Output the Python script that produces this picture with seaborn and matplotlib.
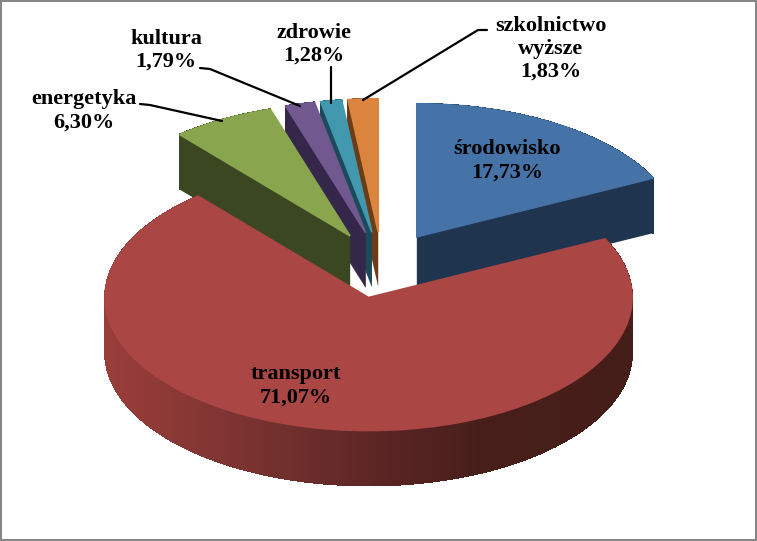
import numpy as np
import matplotlib
matplotlib.use("Agg")
import matplotlib.pyplot as plt
import seaborn as sns
from matplotlib.collections import PolyCollection
from matplotlib.colors import LinearSegmentedColormap
from matplotlib.lines import Line2D
from matplotlib.patches import Rectangle

# ---- data ----
categories = ["środowisko", "transport", "energetyka", "kultura", "zdrowie", "szkolnictwo\nwyższe"]
values = [17.73, 71.07, 6.30, 1.79, 1.28, 1.83]

# ---- style ----
top_colors = ["#4572A7", "#AA4643", "#89A54E", "#71588F", "#4198AF", "#DB843D"]
side_colors = ["#1F344F", "#451D19", "#3A4720", "#35274A", "#1B4B5A", "#6B3C16"]
rim_cmap = LinearSegmentedColormap.from_list(
    "rim", [(0.0, "#9A3E3A"), (0.37, "#6E2E2C"), (0.55, "#582423"), (0.72, "#471E1A"), (1.0, "#451D19")])
explode_amount = 0.25
W, H = 757, 541
CX, CY, RX, RY, DEPTH_PX = 382.0, 265.0, 263.5, 133.0, 55.0

label_xy = [(507, 161), (296, 386), (84, 111), (166, 50), (314, 44), (551, 49)]
leaders = [
    [(140, 104), (150, 105), (222, 121)],
    [(200, 68), (210, 69), (300, 106)],
    [(331, 67), (331, 103)],
    [(363, 100), (478, 30), (487, 30)],
]

sns.set_theme(style="white")
plt.rcParams["font.family"] = ["Liberation Serif", "DejaVu Serif"]

fig = plt.figure(figsize=(W / 100, H / 100), dpi=100, facecolor="white")
ax = fig.add_axes([0, 0, 1, 1])

wedges, _ = ax.pie(values, explode=[explode_amount] * len(values), colors=top_colors,
                   startangle=90, counterclock=False, radius=1.0,
                   wedgeprops={"linewidth": 1.2})
ax.set_aspect("auto")
ax.set_xlim(-CX / RX, (W - CX) / RX)
ax.set_ylim((CY - H) / RY, CY / RY)
ax.axis("off")
depth = DEPTH_PX / RY

# paint order: right to left among the small slices, transport in front of all
order = {0: 5, 5: 6, 4: 7, 3: 8, 2: 9, 1: 10}
for i, w in enumerate(wedges):
    base = order[i] * 10
    w.set_zorder(base + 3)
    w.set_edgecolor(top_colors[i])
    (cx, cy) = w.center
    t = np.radians(np.linspace(w.theta1, w.theta2, 181))
    x, y = cx + np.cos(t), cy + np.sin(t)
    # the two flat cuts
    for k in (0, -1):
        cut = [(cx, cy), (x[k], y[k]), (x[k], y[k] - depth), (cx, cy - depth)]
        ax.fill(*zip(*cut), color=side_colors[i], lw=0, zorder=base + 1)
    # the outer rim, shaded from left to right
    quads = [[(x[j], y[j]), (x[j + 1], y[j + 1]), (x[j + 1], y[j + 1] - depth), (x[j], y[j] - depth)]
             for j in range(len(t) - 1)]
    if i == 1:
        mid = 0.5 * (x[:-1] + x[1:])
        shades = rim_cmap(np.clip((mid - x.min()) / (x.max() - x.min()), 0, 1))
    else:
        shades = side_colors[i]
    ax.add_collection(PolyCollection(quads, facecolors=shades, edgecolors=shades,
                                     linewidths=0.6, antialiaseds=False, zorder=base + 2))

for name, val, (px, py) in zip(categories, values, label_xy):
    txt = f"{name}\n{val:.2f}%".replace(".", ",")
    fig.text(px / W, 1 - py / H, txt, ha="center", va="center", fontsize=16,
             fontweight="bold", color="black", linespacing=1.2, zorder=300)

for pts in leaders:
    xs, ys = zip(*pts)
    fig.add_artist(Line2D(np.array(xs) / W, 1 - np.array(ys) / H, color="black", lw=1.6,
                          transform=fig.transFigure, zorder=200))

fig.add_artist(Rectangle((1 / W, 1 / H), (W - 2) / W, (H - 2) / H, transform=fig.transFigure,
                         fill=False, edgecolor="#868686", lw=1.44))
fig.savefig("out.png", dpi=100)
